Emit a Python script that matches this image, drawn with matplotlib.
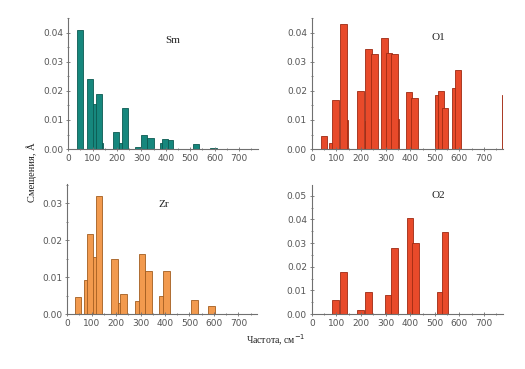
#!/usr/bin/env python3

import matplotlib

matplotlib.use("Agg")
from matplotlib import pyplot as plt
from matplotlib.ticker import MultipleLocator

# frequency (cm^-1) and displacement (A) per atom, drawn in list order
SM_FREQ = [100, 130, 220, 286, 390, 49, 90, 127, 197, 234, 311, 337, 415, 397, 525, 596]
SM_DISP = [0.0155, 0.002, 0.002, 0.0008, 0.002, 0.041, 0.024, 0.019, 0.006, 0.014,
           0.0047, 0.0037, 0.0031, 0.0036, 0.0016, 0.0004]

O1_FREQ = [82, 135, 228, 340, 400, 512, 582, 50, 96, 129, 198, 230, 254, 295, 314,
           336, 395, 418, 524, 542, 594, 787]
O1_DISP = [0.002, 0.010, 0.0095, 0.0105, 0.0115, 0.0185, 0.021, 0.0045, 0.017, 0.043,
           0.020, 0.0345, 0.0325, 0.038, 0.033, 0.0325, 0.0197, 0.0175, 0.020, 0.014,
           0.027, 0.0185]

ZR_FREQ = [80, 114, 216, 290, 390, 45, 92, 129, 194, 230, 306, 333, 406, 520, 590]
ZR_DISP = [0.0093, 0.0155, 0.003, 0.0034, 0.0049, 0.0045, 0.0217, 0.0319, 0.0148,
           0.0054, 0.0163, 0.0117, 0.0117, 0.0038, 0.0021]

O2_FREQ = [96, 129, 198, 230, 311, 336, 399, 421, 520, 542]
O2_DISP = [0.006, 0.0176, 0.0017, 0.0093, 0.0081, 0.0278, 0.0407, 0.0302, 0.0091,
           0.0347]

PANELS = [
    # name, freq, disp, face, edge, rect, ylim, label pos
    ("Sm", SM_FREQ, SM_DISP, "#16877d", "#0c5a52",
     [0.130, 0.596, 0.361, 0.355], 0.0450, (0.55, 0.83)),
    ("O1", O1_FREQ, O1_DISP, "#e84a2a", "#9e2a12",
     [0.594, 0.596, 0.364, 0.355], 0.0450, (0.66, 0.85)),
    ("Zr", ZR_FREQ, ZR_DISP, "#f29a4e", "#a35d20",
     [0.128, 0.149, 0.362, 0.352], 0.0351, (0.51, 0.84)),
    ("O2", O2_FREQ, O2_DISP, "#e84a2a", "#9e2a12",
     [0.594, 0.149, 0.364, 0.350], 0.0546, (0.66, 0.915)),
]

SERIF = ["Liberation Serif", "DejaVu Serif"]
GRAY = "#707070"


def main():
    fig = plt.figure(figsize=(5.25, 3.69), dpi=100)

    for name, freq, disp, face, edge, rect, ymax, (lx, ly) in PANELS:
        ax = fig.add_axes(rect)
        ax.bar(freq, disp, width=26, color=face, edgecolor=edge, linewidth=0.6,
               align="center", clip_on=True)
        ax.set_xlim(0, 777)
        ax.set_ylim(0, ymax)
        ax.xaxis.set_major_locator(MultipleLocator(100))
        ax.xaxis.set_minor_locator(MultipleLocator(50))
        ax.yaxis.set_major_locator(MultipleLocator(0.01))
        ax.yaxis.set_minor_locator(MultipleLocator(0.005))
        ax.yaxis.set_major_formatter(lambda v, _: f"{v:.2f}")
        for side in ("top", "right"):
            ax.spines[side].set_visible(False)
        for side in ("left", "bottom"):
            ax.spines[side].set_color(GRAY)
            ax.spines[side].set_linewidth(0.8)
        ax.tick_params(which="both", direction="inout", colors=GRAY,
                       labelsize=6.5, labelcolor="#555555", width=0.6)
        ax.tick_params(which="major", length=3, pad=2)
        ax.tick_params(which="minor", length=2)
        ax.text(lx, ly, name, transform=ax.transAxes, family=SERIF, fontsize=8,
                ha="center", va="center", color="#222222")

    fig.text(32 / 525, 1 - 172 / 369, "Смещения, Å", family=SERIF, fontsize=7.5,
             rotation=90, ha="center", va="center", color="#222222")
    fig.text(276 / 525, 1 - 340 / 369, "Частота, см$^{-1}$", family=SERIF,
             fontsize=7, ha="center", va="center", color="#222222")

    fig.savefig("out.png", dpi=100)


if __name__ == "__main__":
    main()
